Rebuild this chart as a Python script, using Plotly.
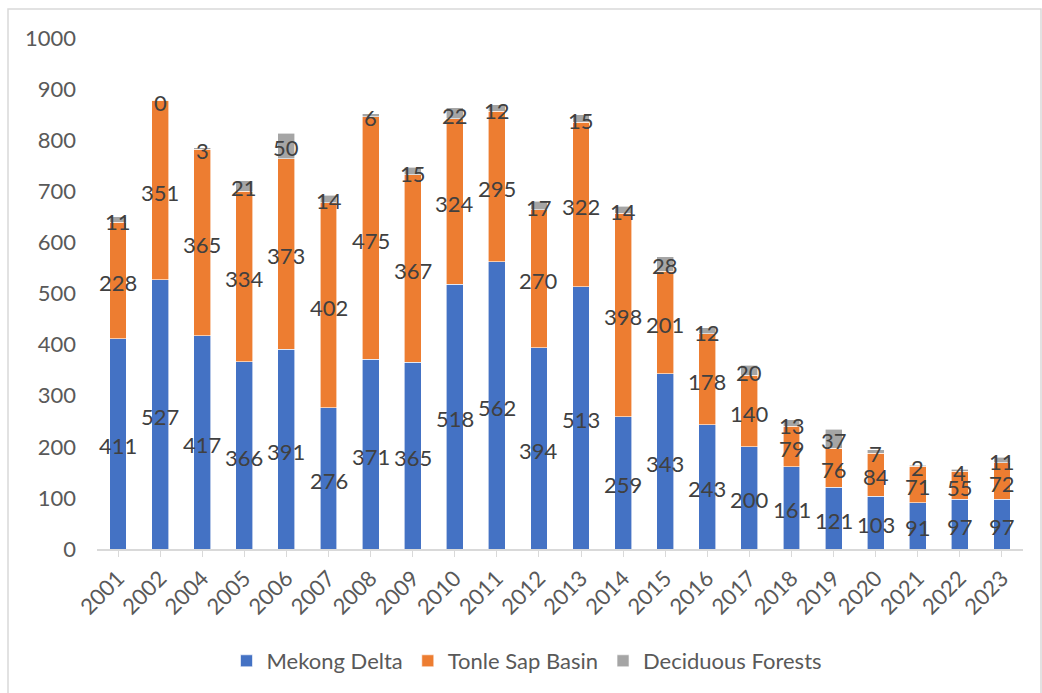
import numpy as np
import plotly.graph_objects as go

years = ["2001", "2002", "2004", "2005", "2006", "2007", "2008", "2009", "2010", "2011", "2012",
         "2013", "2014", "2015", "2016", "2017", "2018", "2019", "2020", "2021", "2022", "2023"]
mekong = [411, 527, 417, 366, 391, 276, 371, 365, 518, 562, 394, 513, 259, 343, 243, 200, 161, 121, 103, 91, 97, 97]
tonle = [228, 351, 365, 334, 373, 402, 475, 367, 324, 295, 270, 322, 398, 201, 178, 140, 79, 76, 84, 71, 55, 72]
decid = [11, 0, 3, 21, 50, 14, 6, 15, 22, 12, 17, 15, 14, 28, 12, 20, 13, 37, 7, 2, 4, 11]

series = [("Mekong Delta", mekong, "#4472C4"),
          ("Tonle Sap Basin", tonle, "#ED7D31"),
          ("Deciduous Forests", decid, "#A5A5A5")]

FONT = "Lato"
FS = 22
fig = go.Figure()
base = np.zeros(len(years))
annotations = []
for name, vals, col in series:
    v = np.array(vals, dtype=float)
    fig.add_trace(go.Bar(x=years, y=v, name=name,
                         marker=dict(color=col, line=dict(color="white", width=0.6))))
    for i, (mid, val) in enumerate(zip(base + v / 2, v)):
        annotations.append(dict(x=i, y=mid, xref="x", yref="y", text=str(int(val)),
                                showarrow=False, yshift=-2,
                                font=dict(family=FONT, size=FS, color="#404040")))
    base = base + v

W, H = 1042, 693
L, R, T, B = 97, 19, 38, 143
pw, ph = W - L - R, H - T - B

def px(x):
    return (x - L) / pw

def py(y):
    return (H - B - y) / ph

fig.add_shape(type="rect", xref="paper", yref="paper",
              x0=px(8), x1=px(1041), y0=py(700), y1=py(9),
              line=dict(color="#D9D9D9", width=1.5), fillcolor="rgba(0,0,0,0)", layer="below")

fig.update_layout(
    width=W, height=H, barmode="stack", bargap=0.6,
    margin=dict(l=L, r=R, t=T, b=B),
    plot_bgcolor="white", paper_bgcolor="white",
    font=dict(family=FONT, size=FS, color="#595959"),
    showlegend=True,
    annotations=annotations,
    legend=dict(orientation="h", x=px(527), xanchor="center", y=py(661), yanchor="middle",
                font=dict(family=FONT, size=FS, color="#595959"), itemwidth=30,
                traceorder="normal"),
    xaxis=dict(type="category", range=[-0.5, len(years) - 0.5], tickangle=-45,
               showline=True, linecolor="#D9D9D9", linewidth=1.5,
               ticks="outside", ticklen=6, tickcolor="#D9D9D9", showgrid=False,
               tickfont=dict(family=FONT, size=FS, color="#595959")),
    yaxis=dict(range=[0, 1000], dtick=100, showgrid=False, zeroline=False, showline=False,
               ticklabelstandoff=20,
               tickfont=dict(family=FONT, size=FS, color="#595959")),
)

fig.write_html("out.html")
